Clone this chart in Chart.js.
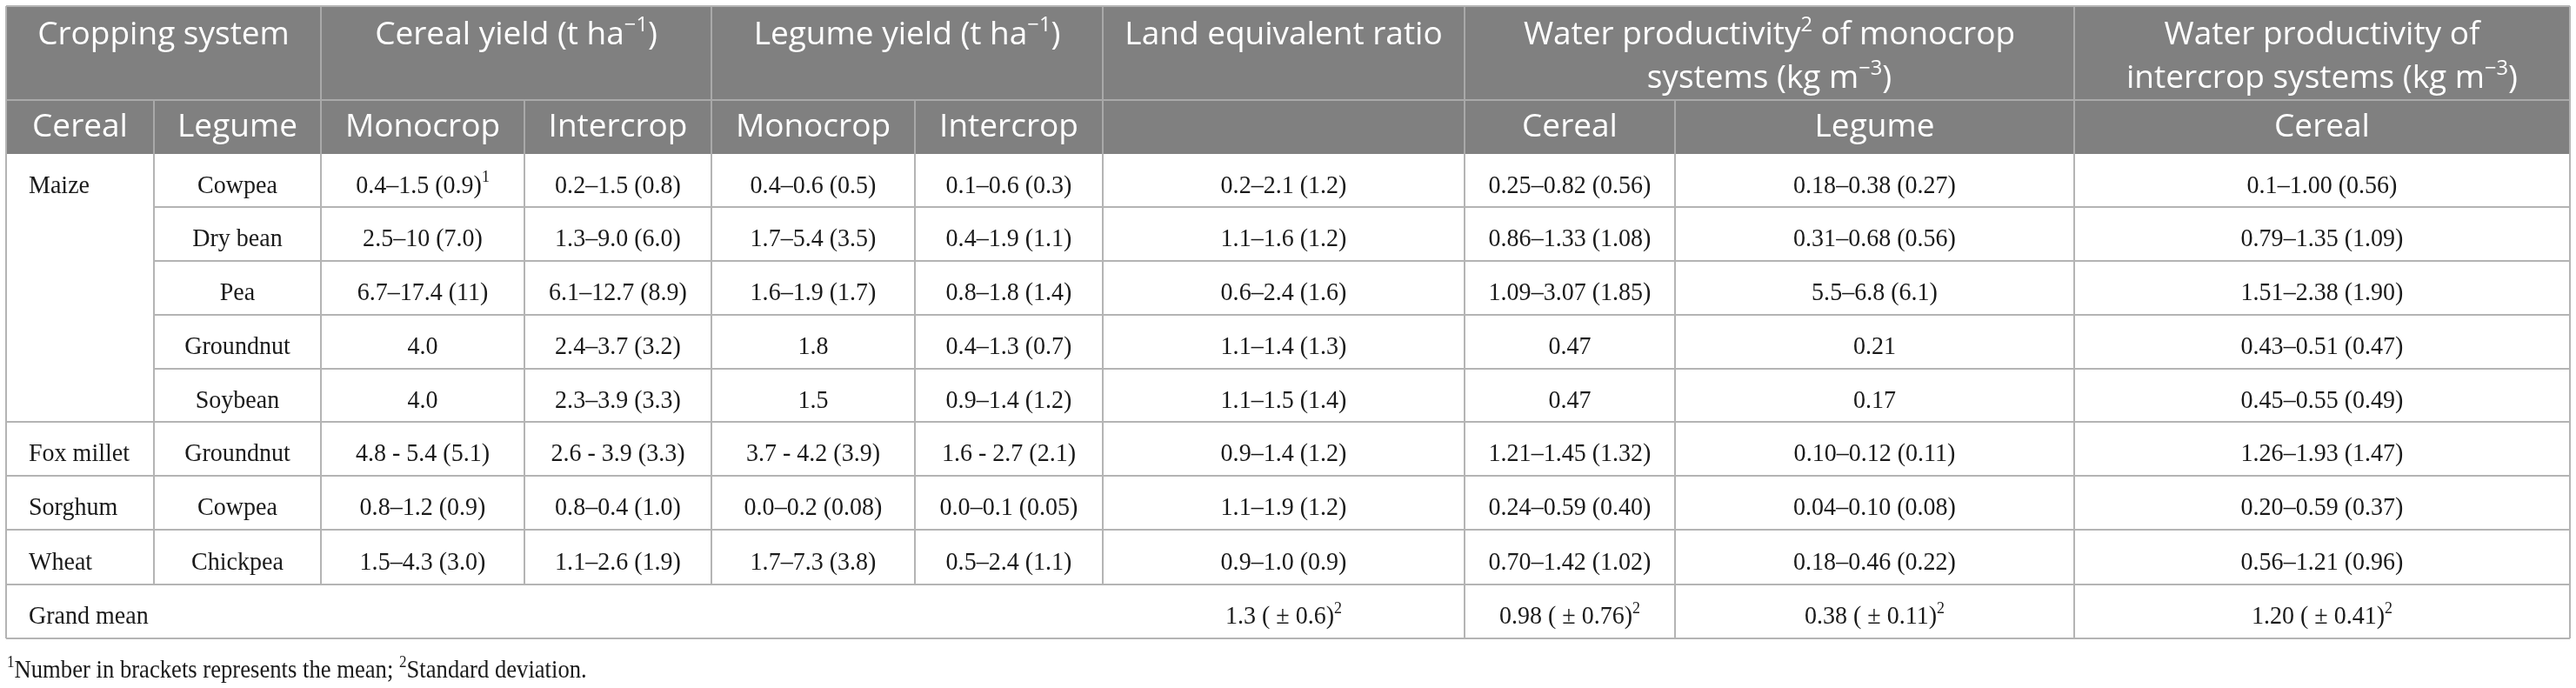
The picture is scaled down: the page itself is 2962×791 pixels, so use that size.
<!DOCTYPE html>
<html>
<head>
<meta charset="utf-8">
<script src="https://cdn.jsdelivr.net/npm/chart.js@4.4.1/dist/chart.umd.min.js"></script>
<style>
  html, body { margin: 0; padding: 0; background: #ffffff; }
  #wrap { position: relative; width: 2962px; height: 791px; }
</style>
</head>
<body>
<div id="wrap"><canvas id="c"></canvas></div>
<script>
// ---------------- DATA ----------------
const header1 = ['Cropping system', 'Cereal yield (t ha^{−1})', 'Legume yield (t ha^{−1})', 'Land equivalent ratio',
  ['Water productivity^{2} of monocrop', 'systems (kg m^{−3})'],
  ['Water productivity of', 'intercrop systems (kg m^{−3})']];
const header1Span = [2, 2, 2, 1, 2, 1];
const header2 = ['Cereal', 'Legume', 'Monocrop', 'Intercrop', 'Monocrop', 'Intercrop', '', 'Cereal', 'Legume', 'Cereal'];

const cereals = ['Maize', 'Fox millet', 'Sorghum', 'Wheat'];
const cerealRowSpan = [5, 1, 1, 1];
const legumes = ['Cowpea', 'Dry bean', 'Pea', 'Groundnut', 'Soybean', 'Groundnut', 'Cowpea', 'Chickpea'];

const cerealMono = ['0.4–1.5 (0.9)^{1}', '2.5–10 (7.0)', '6.7–17.4 (11)', '4.0', '4.0', '4.8 - 5.4 (5.1)', '0.8–1.2 (0.9)', '1.5–4.3 (3.0)'];
const cerealInter = ['0.2–1.5 (0.8)', '1.3–9.0 (6.0)', '6.1–12.7 (8.9)', '2.4–3.7 (3.2)', '2.3–3.9 (3.3)', '2.6 - 3.9 (3.3)', '0.8–0.4 (1.0)', '1.1–2.6 (1.9)'];
const legumeMono = ['0.4–0.6 (0.5)', '1.7–5.4 (3.5)', '1.6–1.9 (1.7)', '1.8', '1.5', '3.7 - 4.2 (3.9)', '0.0–0.2 (0.08)', '1.7–7.3 (3.8)'];
const legumeInter = ['0.1–0.6 (0.3)', '0.4–1.9 (1.1)', '0.8–1.8 (1.4)', '0.4–1.3 (0.7)', '0.9–1.4 (1.2)', '1.6 - 2.7 (2.1)', '0.0–0.1 (0.05)', '0.5–2.4 (1.1)'];
const landEquivalentRatio = ['0.2–2.1 (1.2)', '1.1–1.6 (1.2)', '0.6–2.4 (1.6)', '1.1–1.4 (1.3)', '1.1–1.5 (1.4)', '0.9–1.4 (1.2)', '1.1–1.9 (1.2)', '0.9–1.0 (0.9)'];
const wpMonoCereal = ['0.25–0.82 (0.56)', '0.86–1.33 (1.08)', '1.09–3.07 (1.85)', '0.47', '0.47', '1.21–1.45 (1.32)', '0.24–0.59 (0.40)', '0.70–1.42 (1.02)'];
const wpMonoLegume = ['0.18–0.38 (0.27)', '0.31–0.68 (0.56)', '5.5–6.8 (6.1)', '0.21', '0.17', '0.10–0.12 (0.11)', '0.04–0.10 (0.08)', '0.18–0.46 (0.22)'];
const wpInterCereal = ['0.1–1.00 (0.56)', '0.79–1.35 (1.09)', '1.51–2.38 (1.90)', '0.43–0.51 (0.47)', '0.45–0.55 (0.49)', '1.26–1.93 (1.47)', '0.20–0.59 (0.37)', '0.56–1.21 (0.96)'];

const grandMeanLabel = 'Grand mean';
const grandMean = ['1.3 ( ± 0.6)^{2}', '0.98 ( ± 0.76)^{2}', '0.38 ( ± 0.11)^{2}', '1.20 ( ± 0.41)^{2}'];

const footnote = '^{1}Number in brackets represents the mean; ^{2}Standard deviation.';

// ---------------- LAYOUT (scale units) ----------------
const colEdges = [7, 177, 369, 603, 818, 1052, 1268, 1684, 1926, 2385, 2955];
const headEdges = [7, 115, 177];
const rowEdges = [177, 238, 300, 362, 424, 485, 547, 609, 672, 734];
const footBaseline = 779;

const style = {
  headBg: '#808080', headLine: '#a9a9a9', bodyLine: '#b4b4b4',
  headFont: '"Open Sans", "Noto Sans", sans-serif', headSize: 37,
  bodyFont: '"Liberation Serif", "DejaVu Serif", serif', bodySize: 29.5, bodySx: 0.95,
  footSize: 28.5, footSx: 0.935,
  headColor: '#ffffff', bodyColor: '#1a1a1a'
};

// ---------------- TABLE PLUGIN ----------------
function parseRuns(s) {
  const out = []; const re = /\^\{([^}]*)\}/g; let last = 0, m;
  while ((m = re.exec(s)) !== null) {
    if (m.index > last) out.push({ t: s.slice(last, m.index), sup: false });
    out.push({ t: m[1], sup: true }); last = re.lastIndex;
  }
  if (last < s.length) out.push({ t: s.slice(last), sup: false });
  return out;
}
function drawRich(ctx, s, x, y, align, family, size, color, sx) {
  sx = sx || 1;
  const runs = parseRuns(s);
  const supSize = size * 0.64;
  let w = 0;
  runs.forEach(r => { ctx.font = (r.sup ? supSize : size) + 'px ' + family; r.w = ctx.measureText(r.t).width; w += r.w; });
  const start = align === 'center' ? x - (w * sx) / 2 : x;
  ctx.save();
  ctx.translate(start, y);
  ctx.scale(sx, 1);
  ctx.fillStyle = color; ctx.textAlign = 'left'; ctx.textBaseline = 'alphabetic';
  let cx = 0;
  runs.forEach(r => {
    ctx.font = (r.sup ? supSize : size) + 'px ' + family;
    ctx.fillText(r.t, cx, r.sup ? -size * 0.41 : 0);
    cx += r.w;
  });
  ctx.restore();
}

const tablePlugin = {
  id: 'tablePlugin',
  afterDraw(chart) {
    const ctx = chart.ctx;
    const X = v => chart.scales.x.getPixelForValue(v);
    const Y = v => chart.scales.y.getPixelForValue(v);
    const L = colEdges[0], R = colEdges[colEdges.length - 1];
    ctx.save();
    // header background
    ctx.fillStyle = style.headBg;
    ctx.fillRect(X(L), Y(headEdges[0]), X(R) - X(L), Y(headEdges[2]) - Y(headEdges[0]));

    const line = (x1, y1, x2, y2, c) => {
      ctx.strokeStyle = c; ctx.lineWidth = 2; ctx.beginPath();
      ctx.moveTo(X(x1), Y(y1)); ctx.lineTo(X(x2), Y(y2)); ctx.stroke();
    };
    // header lines
    line(L, headEdges[1], R, headEdges[1], style.headLine);
    let ci = 0;
    header1Span.forEach((sp) => { ci += sp; if (ci < colEdges.length - 1) line(colEdges[ci], headEdges[0], colEdges[ci], headEdges[1], style.headLine); });
    for (let i = 1; i < colEdges.length - 1; i++) line(colEdges[i], headEdges[1], colEdges[i], headEdges[2], style.headLine);

    // body horizontal lines
    const groupEnds = []; let acc = 0; cerealRowSpan.forEach(s => { acc += s; groupEnds.push(acc); });
    for (let r = 1; r < rowEdges.length - 1; r++) {
      const full = groupEnds.includes(r);
      line(full ? L : colEdges[1], rowEdges[r], R, rowEdges[r], style.bodyLine);
    }
    // body vertical lines
    const nData = legumes.length;
    for (let i = 1; i < colEdges.length - 1; i++) line(colEdges[i], rowEdges[0], colEdges[i], rowEdges[nData], style.bodyLine);
    for (let i = 7; i < colEdges.length - 1; i++) line(colEdges[i], rowEdges[nData], colEdges[i], rowEdges[nData + 1], style.bodyLine);
    // outer border
    line(L, headEdges[0], R, headEdges[0], style.bodyLine);
    line(L, rowEdges[nData + 1], R, rowEdges[nData + 1], style.bodyLine);
    line(L, headEdges[0], L, rowEdges[nData + 1], style.bodyLine);
    line(R, headEdges[0], R, rowEdges[nData + 1], style.bodyLine);

    // header texts
    const mid = (a, b) => (X(a) + X(b)) / 2;
    ci = 0;
    header1.forEach((h, i) => {
      const a = colEdges[ci], b = colEdges[ci + header1Span[i]]; ci += header1Span[i];
      const lines = Array.isArray(h) ? h : [h];
      lines.forEach((t, k) => drawRich(ctx, t, mid(a, b), Y(headEdges[0] + 44 + k * 50), 'center', style.headFont, style.headSize, style.headColor));
    });
    header2.forEach((t, i) => {
      if (t) drawRich(ctx, t, mid(colEdges[i], colEdges[i + 1]), Y((headEdges[1] + headEdges[2]) / 2 + 11), 'center', style.headFont, style.headSize, style.headColor);
    });

    // body texts
    const cols = [legumes, cerealMono, cerealInter, legumeMono, legumeInter, landEquivalentRatio, wpMonoCereal, wpMonoLegume, wpInterCereal];
    const base = r => Y((rowEdges[r] + rowEdges[r + 1]) / 2 + 14);
    const bf = style.bodyFont, bs = style.bodySize, bc = style.bodyColor, bx = style.bodySx;
    let r0 = 0;
    cereals.forEach((c, g) => { drawRich(ctx, c, X(colEdges[0] + 26), base(r0), 'left', bf, bs, bc, bx); r0 += cerealRowSpan[g]; });
    for (let r = 0; r < nData; r++) {
      cols.forEach((arr, k) => drawRich(ctx, arr[r], mid(colEdges[k + 1], colEdges[k + 2]), base(r), 'center', bf, bs, bc, bx));
    }
    drawRich(ctx, grandMeanLabel, X(colEdges[0] + 26), base(nData), 'left', bf, bs, bc, bx);
    grandMean.forEach((t, k) => drawRich(ctx, t, mid(colEdges[k + 6], colEdges[k + 7]), base(nData), 'center', bf, bs, bc, bx));

    // footnote
    drawRich(ctx, footnote, X(L + 1), Y(footBaseline), 'left', bf, style.footSize, bc, style.footSx);
    ctx.restore();
  }
};

new Chart(document.getElementById('c'), {
  type: 'scatter',
  data: { datasets: [{ data: [], pointRadius: 0 }] },
  options: {
    responsive: true, maintainAspectRatio: false, animation: false,
    layout: { padding: 0 },
    plugins: { legend: { display: false }, tooltip: { enabled: false }, title: { display: false } },
    scales: {
      x: { type: 'linear', min: 0, max: 2962, display: false },
      y: { type: 'linear', min: 0, max: 791, reverse: true, display: false }
    }
  },
  plugins: [tablePlugin]
});
</script>
</body>
</html>
